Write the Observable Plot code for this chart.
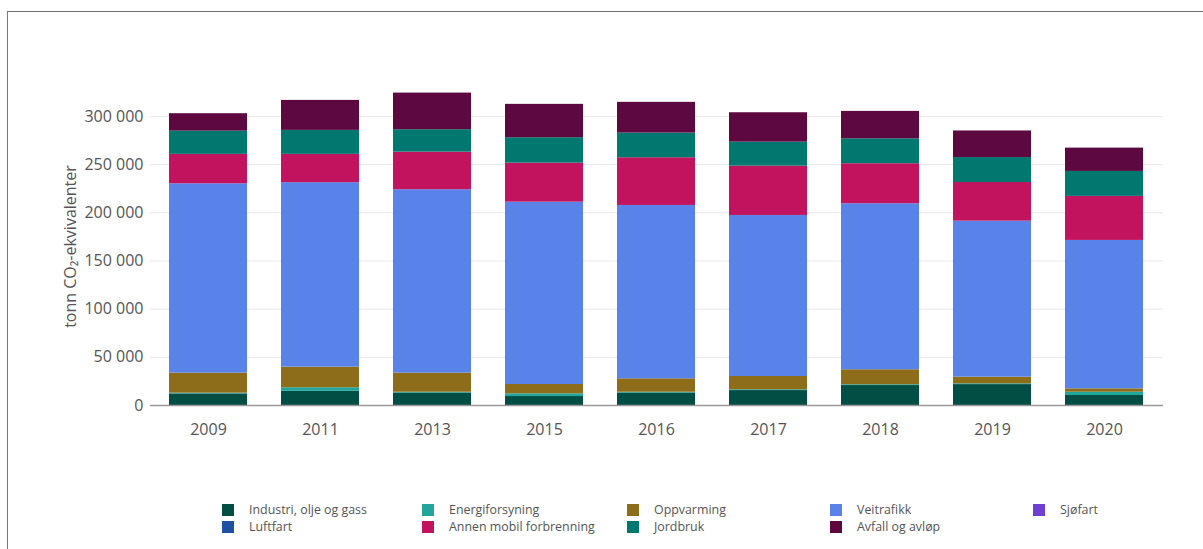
<!DOCTYPE html>
<html>
<head>
<meta charset="utf-8">
<script src="https://cdn.jsdelivr.net/npm/d3@7"></script>
<script src="https://cdn.jsdelivr.net/npm/@observablehq/plot@0.6"></script>
<style>
  html, body { margin: 0; padding: 0; background: #fff; overflow: hidden; }
  #page { position: relative; width: 1203px; height: 549px; overflow: hidden; font-family: "Open Sans", sans-serif; }
  #frame { position: absolute; left: 7px; top: 11px; width: 1300px; height: 600px; border-top: 1px solid #6f6f6f; border-left: 1px solid #7a7a7a; box-shadow: 0 1px 1px rgba(0,0,0,0.12); }
  #chart { position: absolute; left: 0; top: 0; }
  #legend { position: absolute; left: 0; top: 0; width: 1203px; height: 549px; pointer-events: none; }
  .item { position: absolute; display: flex; align-items: center; font-size: 12.4px; color: #555; white-space: nowrap; }
  .sw { width: 12px; height: 12px; margin-right: 15px; }
</style>
</head>
<body>
<div id="page">
  <div id="frame"></div>
  <div id="chart"></div>
  <div id="legend"></div>
</div>
<script>
const years = ["2009", "2011", "2013", "2015", "2016", "2017", "2018", "2019", "2020"];
const seriesNames = ["Industri, olje og gass", "Energiforsyning", "Oppvarming", "Luftfart", "Veitrafikk", "Sjøfart", "Annen mobil forbrenning", "Jordbruk", "Avfall og avløp"];
const seriesColors = ["#024d44", "#22a69b", "#8d6c1a", "#1f51a3", "#5a83e9", "#6e3fd1", "#c2145e", "#00776f", "#5e0840"];

const industri        = [12000, 14800, 13000, 9300, 13000, 15500, 20700, 21700, 10400];
const energiforsyning = [800, 3600, 800, 2800, 800, 800, 800, 800, 3400];
const oppvarming      = [20800, 21400, 19800, 9700, 13900, 13800, 15600, 6900, 3500];
const luftfart        = [0, 0, 0, 0, 0, 0, 0, 0, 0];
const veitrafikk      = [196500, 191400, 190300, 189200, 179900, 167100, 172300, 161900, 154000];
const sjofart         = [0, 0, 0, 0, 0, 0, 0, 0, 0];
const annenMobil      = [30500, 29400, 39000, 40500, 49500, 51200, 41500, 40100, 45700];
const jordbruk        = [24100, 24900, 23300, 26400, 25600, 24900, 25900, 25900, 25900];
const avfall          = [18100, 31100, 38000, 34600, 31900, 30500, 28400, 27600, 24200];

const yTicks = [0, 50000, 100000, 150000, 200000, 250000, 300000];

const seriesValues = [industri, energiforsyning, oppvarming, luftfart, veitrafikk, sjofart, annenMobil, jordbruk, avfall];
const rows = [];
seriesNames.forEach((s, si) => {
  years.forEach((y, yi) => rows.push({year: y, series: s, value: seriesValues[si][yi]}));
});

const fmt = d3.formatLocale({thousands: " ", grouping: [3], decimal: ",", currency: ["", ""]}).format(",d");

const chart = Plot.plot({
  width: 1203,
  height: 470,
  marginLeft: 150,
  marginRight: 40,
  marginTop: 87,
  marginBottom: 65,
  style: {fontFamily: "Open Sans, sans-serif", color: "#555", background: "transparent"},
  x: {domain: years, paddingInner: 0.3, paddingOuter: 0.151, label: null},
  y: {domain: [0, 330000], label: null},
  color: {domain: seriesNames, range: seriesColors},
  marks: [
    Plot.gridY(yTicks, {stroke: "#e8e8e8", strokeOpacity: 1}),
    Plot.barY(rows, {x: "year", y: "value", fill: "series", order: seriesNames}),
    Plot.ruleY([0], {stroke: "#999", strokeWidth: 1.5}),
    Plot.axisX({tickSize: 0, tickPadding: 18, fontSize: 16, fill: "#555", label: null}),
    Plot.axisY({ticks: yTicks, tickFormat: fmt, tickSize: 0, tickPadding: 7, fontSize: 16, fill: "#555",
      label: "tonn CO₂-ekvivalenter", labelAnchor: "center", labelArrow: "none", labelOffset: 86})
  ]
});
document.getElementById("chart").appendChild(chart);

// Legend (HTML, below the chart area)
const legendPos = [
  [222, 503], [422, 503], [627, 503], [222, 520], [830, 503], [1033, 503], [422, 520], [627, 520], [830, 520]
];
const legend = document.getElementById("legend");
seriesNames.forEach((s, i) => {
  const d = document.createElement("div");
  d.className = "item";
  d.style.left = legendPos[i][0] + "px";
  d.style.top = (legendPos[i][1] - 2) + "px";
  const sw = document.createElement("span");
  sw.className = "sw";
  sw.style.background = seriesColors[i];
  const t = document.createElement("span");
  t.textContent = s;
  d.appendChild(sw); d.appendChild(t);
  legend.appendChild(d);
});
</script>
</body>
</html>
